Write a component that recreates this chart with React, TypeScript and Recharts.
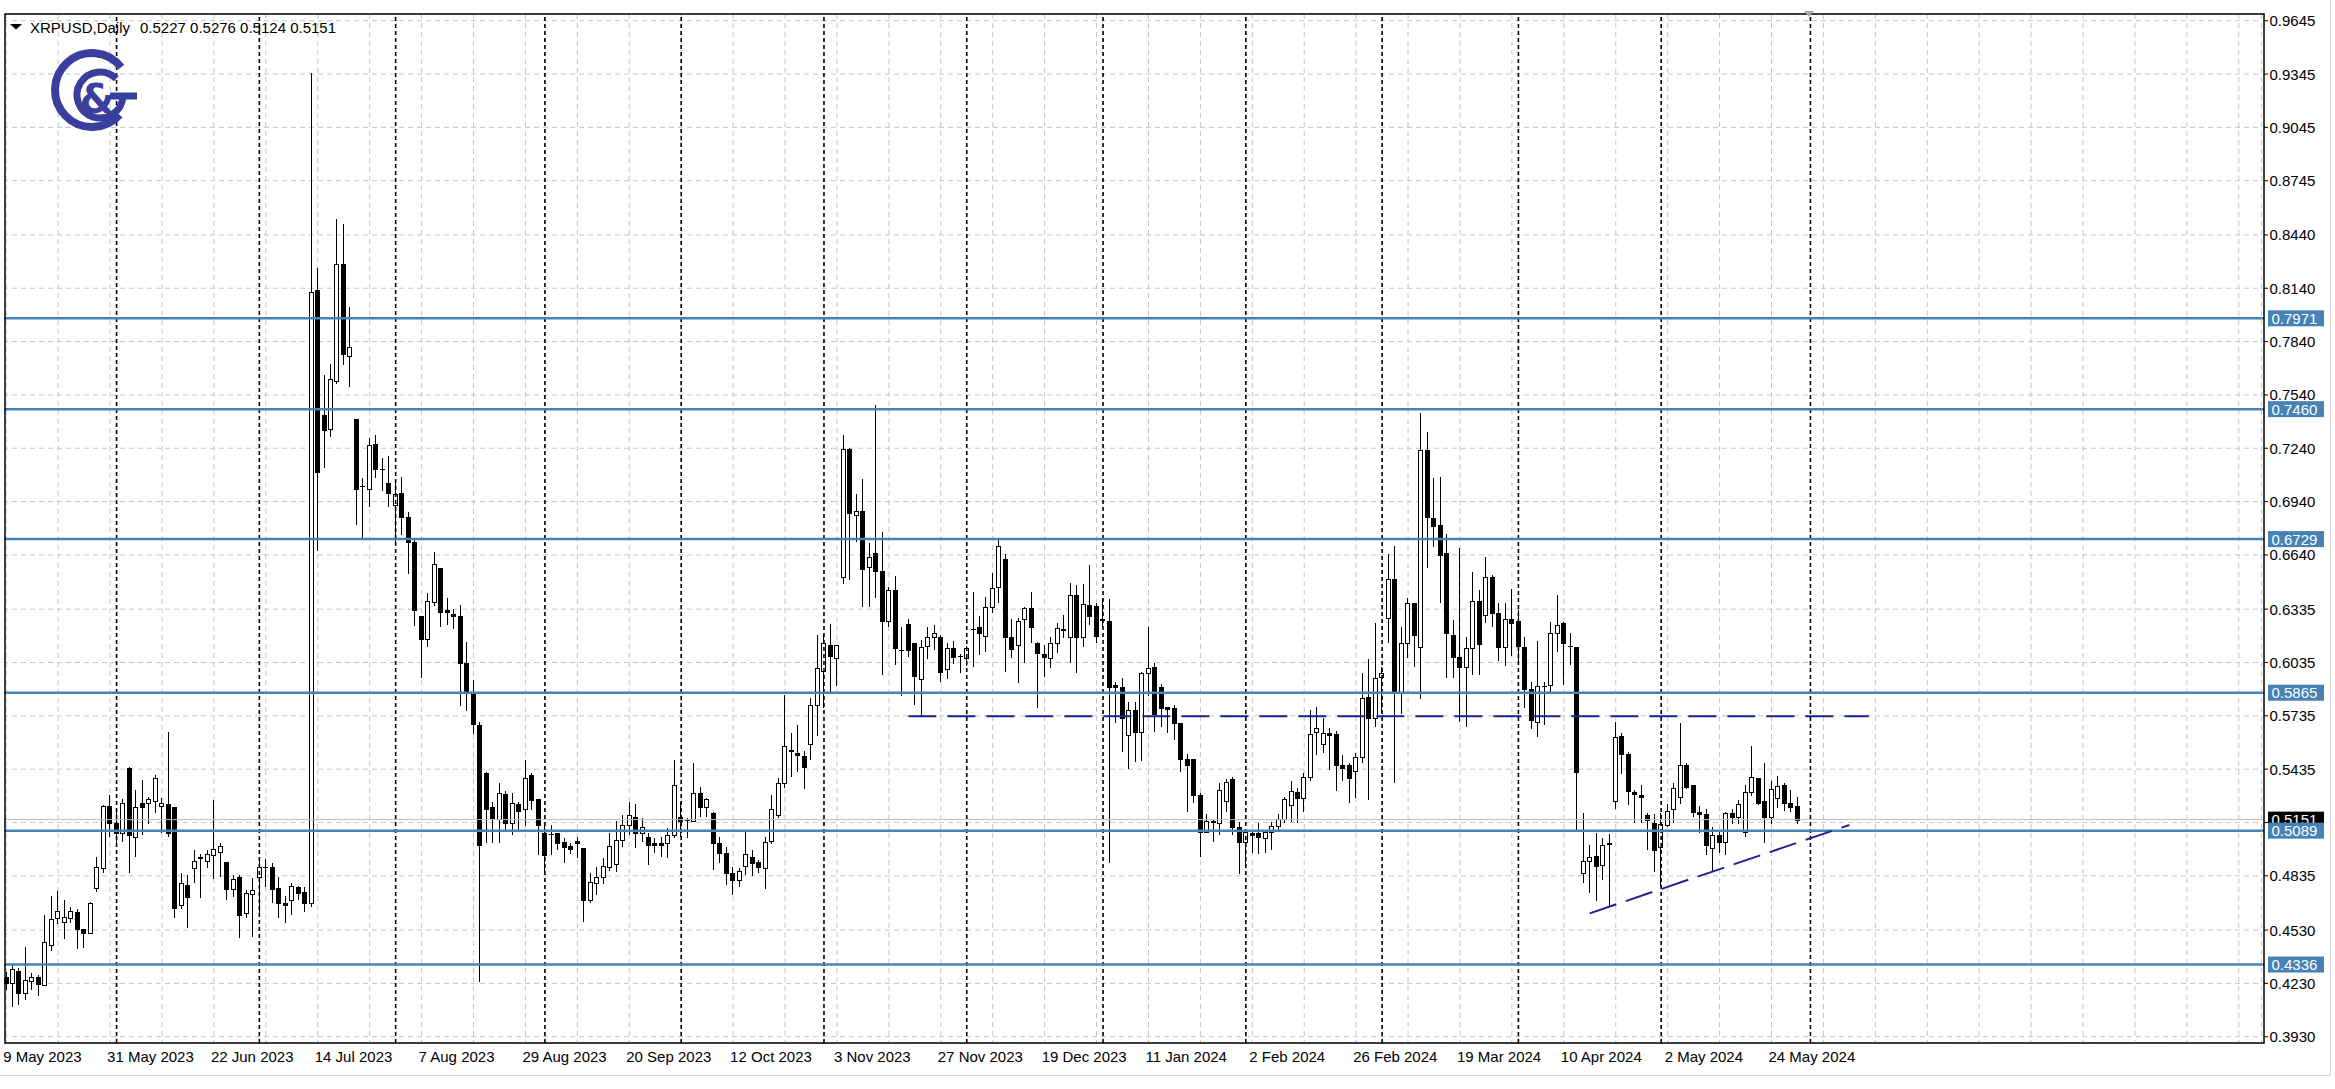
import React from "react";
import { ComposedChart, Bar, XAxis, YAxis, CartesianGrid, ReferenceLine } from "recharts";

const W = 2335;
const H = 1089;
const FONT = '"Liberation Sans", Arial, sans-serif';
const SYMBOL = "XRPUSD,Daily";

// ---- daily candles (weekday bars from 9 May 2023) ----
const opens = [
  0.4265,0.4230,0.4302,0.4178,0.4245,0.4264,0.4221,0.4446,0.4596,0.4577,
  0.4596,0.4633,0.4534,0.4512,0.4765,0.4877,0.5228,0.5130,0.5074,0.5440,
  0.5055,0.5247,0.5247,0.5256,0.5228,0.5237,0.5224,0.4671,0.4783,0.4877,
  0.4935,0.4918,0.4952,0.4971,0.4911,0.4761,0.4826,0.4624,0.4733,0.4827,
  0.4887,0.4886,0.4765,0.4684,0.4699,0.4770,0.4746,0.4680,0.8132,0.7429,
  0.7351,0.7621,0.8275,0.7759,0.7406,0.7029,0.7013,0.7265,0.7124,0.7047,
  0.6921,0.6990,0.6855,0.6711,0.6295,0.6166,0.6376,0.6568,0.6330,0.6310,
  0.6295,0.6031,0.5865,0.5683,0.5415,0.5224,0.5153,0.5295,0.5134,0.5239,
  0.5209,0.5402,0.5265,0.5078,0.5070,0.5074,0.5027,0.5003,0.5031,0.4990,
  0.4699,0.4796,0.4826,0.4886,0.4901,0.5036,0.5121,0.5164,0.5074,0.5055,
  0.5022,0.5018,0.5018,0.5065,0.5164,0.5150,0.5145,0.5303,0.5220,0.5186,
  0.5018,0.4965,0.4853,0.4812,0.4890,0.4943,0.4915,0.4877,0.5033,0.5177,
  0.5355,0.5540,0.5528,0.5509,0.5577,0.5796,0.5989,0.6133,0.6058,0.6518,
  0.7234,0.6865,0.6889,0.6570,0.6653,0.6551,0.6270,0.6443,0.6106,0.6251,
  0.6143,0.5940,0.6128,0.6177,0.6180,0.5996,0.6115,0.6072,0.6058,0.6226,
  0.6233,0.6184,0.6349,0.6458,0.6615,0.6176,0.6133,0.6278,0.6340,0.6146,
  0.6083,0.6058,0.6143,0.6222,0.6176,0.6415,0.6176,0.6358,0.6353,0.6278,
  0.6270,0.5908,0.5899,0.5627,0.5768,0.5646,0.5974,0.6008,0.5895,0.5786,
  0.5777,0.5693,0.5490,0.5490,0.5290,0.5083,0.5141,0.5130,0.5258,0.5378,
  0.5111,0.5027,0.5078,0.5074,0.5046,0.5083,0.5115,0.5153,0.5233,0.5309,
  0.5271,0.5393,0.5646,0.5577,0.5640,0.5633,0.5458,0.5458,0.5426,0.5501,
  0.5839,0.5721,0.5951,0.6283,0.6503,0.5871,0.6143,0.6371,0.6120,0.7230,
  0.6846,0.6808,0.6649,0.6190,0.6068,0.6008,0.6115,0.6383,0.6302,0.6514,
  0.6315,0.6120,0.6278,0.6270,0.6124,0.5884,0.5702,0.5903,0.5909,0.6203,
  0.6259,0.6128,0.6124,0.4853,0.4920,0.4946,0.4896,0.5014,0.5258,0.5621,
  0.5520,0.5308,0.5290,0.5177,0.5134,0.4999,0.5121,0.5209,0.5280,0.5458,
  0.5346,0.5196,0.5183,0.4990,0.5065,0.5027,0.5186,0.5168,0.5083,0.5308,
  0.5383,0.5258,0.5164,0.5271,0.5346,0.5247,0.5227,
];
const highs = [
  0.4296,0.4333,0.4315,0.4437,0.4290,0.4277,0.4615,0.4722,0.4750,0.4699,
  0.4661,0.4646,0.4534,0.4690,0.4943,0.5233,0.5290,0.5196,0.5265,0.5449,
  0.5318,0.5374,0.5280,0.5402,0.5271,0.5646,0.5224,0.4849,0.4840,0.4980,
  0.4956,0.4980,0.5262,0.5021,0.4911,0.4840,0.4840,0.4755,0.4821,0.4928,
  0.4928,0.4905,0.4830,0.4722,0.4793,0.4778,0.4770,0.9352,0.8253,0.7650,
  0.7716,0.8528,0.8499,0.8032,0.7406,0.7070,0.7300,0.7314,0.7185,0.7199,
  0.7056,0.7076,0.6884,0.6726,0.6295,0.6424,0.6654,0.6568,0.6396,0.6338,
  0.6358,0.6152,0.5937,0.5700,0.5421,0.5252,0.5359,0.5314,0.5303,0.5252,
  0.5486,0.5415,0.5265,0.5121,0.5121,0.5074,0.5050,0.5018,0.5055,0.4990,
  0.4849,0.4886,0.4933,0.5078,0.5145,0.5177,0.5252,0.5239,0.5158,0.5074,
  0.5046,0.5055,0.5102,0.5486,0.5252,0.5158,0.5468,0.5336,0.5271,0.5196,
  0.5055,0.4995,0.4883,0.4877,0.5093,0.4980,0.4924,0.5051,0.5289,0.5383,
  0.5852,0.5637,0.5683,0.5539,0.5833,0.6190,0.6190,0.6251,0.6133,0.7315,
  0.7240,0.6983,0.7065,0.6705,0.7483,0.6771,0.6458,0.6521,0.6236,0.6278,
  0.6143,0.6161,0.6233,0.6246,0.6190,0.6143,0.6157,0.6083,0.6128,0.6433,
  0.6296,0.6405,0.6540,0.6724,0.6645,0.6278,0.6283,0.6349,0.6433,0.6152,
  0.6133,0.6180,0.6259,0.6302,0.6480,0.6471,0.6476,0.6583,0.6368,0.6396,
  0.6390,0.5927,0.5946,0.5815,0.5815,0.5984,0.6237,0.6034,0.5914,0.5786,
  0.5796,0.5693,0.5520,0.5490,0.5299,0.5183,0.5149,0.5355,0.5378,0.5393,
  0.5139,0.5093,0.5083,0.5130,0.5093,0.5139,0.5183,0.5277,0.5370,0.5327,
  0.5415,0.5768,0.5787,0.5721,0.5665,0.5652,0.5515,0.5468,0.5524,0.5974,
  0.6053,0.6255,0.6012,0.6645,0.6690,0.6236,0.6396,0.6371,0.7440,0.7333,
  0.7071,0.7077,0.6758,0.6274,0.6677,0.6180,0.6546,0.6443,0.6630,0.6527,
  0.6371,0.6371,0.6446,0.6330,0.6180,0.5927,0.6158,0.5927,0.6265,0.6415,
  0.6265,0.6203,0.6124,0.5187,0.5008,0.5078,0.5046,0.5070,0.5702,0.5637,
  0.5533,0.5318,0.5346,0.5186,0.5183,0.5186,0.5239,0.5355,0.5696,0.5468,
  0.5346,0.5228,0.5209,0.5111,0.5093,0.5196,0.5209,0.5261,0.5346,0.5565,
  0.5383,0.5468,0.5370,0.5396,0.5359,0.5318,0.5276,
];
const lows = [
  0.4193,0.4099,0.4108,0.4137,0.4193,0.4159,0.4221,0.4414,0.4564,0.4478,
  0.4571,0.4422,0.4427,0.4512,0.4746,0.4849,0.5055,0.4999,0.5027,0.4849,
  0.4943,0.5065,0.5127,0.5186,0.5078,0.5055,0.4596,0.4647,0.4540,0.4793,
  0.4708,0.4877,0.4815,0.4830,0.4699,0.4718,0.4483,0.4596,0.4493,0.4605,
  0.4774,0.4680,0.4596,0.4568,0.4615,0.4699,0.4633,0.4660,0.6663,0.7128,
  0.7305,0.7601,0.7707,0.7587,0.6806,0.6732,0.6912,0.7070,0.6998,0.6912,
  0.6711,0.6754,0.6531,0.6238,0.5945,0.6123,0.6353,0.6232,0.6244,0.6224,
  0.5793,0.5764,0.5635,0.4240,0.5018,0.5022,0.5018,0.5093,0.5065,0.5093,
  0.5115,0.5205,0.4952,0.4849,0.4952,0.4980,0.4905,0.4958,0.4933,0.4577,
  0.4684,0.4727,0.4789,0.4864,0.4858,0.4999,0.5065,0.4990,0.5027,0.4896,
  0.4965,0.4943,0.4933,0.5046,0.5055,0.5046,0.5140,0.5164,0.5164,0.4868,
  0.4905,0.4783,0.4727,0.4770,0.4840,0.4834,0.4853,0.4759,0.5014,0.5158,
  0.5327,0.5393,0.5421,0.5321,0.5486,0.5621,0.5777,0.5858,0.5903,0.6476,
  0.6499,0.6715,0.6349,0.6349,0.6396,0.5965,0.6237,0.6021,0.5846,0.6068,
  0.5796,0.5730,0.6053,0.6105,0.5927,0.5940,0.6026,0.5974,0.6015,0.6011,
  0.6077,0.6096,0.6311,0.6368,0.5983,0.6058,0.5918,0.6030,0.6143,0.5777,
  0.5955,0.6002,0.6086,0.6171,0.6034,0.5974,0.6120,0.6246,0.6146,0.6233,
  0.4905,0.5693,0.5533,0.5434,0.5477,0.5483,0.5847,0.5646,0.5674,0.5640,
  0.5599,0.5421,0.5196,0.5243,0.4943,0.5083,0.5027,0.5065,0.5196,0.5065,
  0.4845,0.4890,0.4961,0.4958,0.4965,0.4980,0.5089,0.5130,0.5139,0.5130,
  0.5196,0.5370,0.5515,0.5528,0.5430,0.5314,0.5370,0.5243,0.5271,0.5468,
  0.5262,0.5674,0.5749,0.6143,0.5355,0.5745,0.6058,0.6008,0.5828,0.6565,
  0.6686,0.6368,0.5946,0.5946,0.5702,0.5670,0.5965,0.5965,0.6255,0.6236,
  0.6045,0.6015,0.6071,0.6030,0.5777,0.5659,0.5618,0.5683,0.5871,0.6096,
  0.5909,0.6021,0.5083,0.4793,0.4740,0.4695,0.4812,0.4658,0.5209,0.5408,
  0.5233,0.5130,0.5130,0.4980,0.4858,0.4774,0.5111,0.5130,0.5239,0.5322,
  0.5168,0.5074,0.4952,0.4864,0.4961,0.4952,0.5126,0.5126,0.5051,0.5284,
  0.5233,0.5018,0.5126,0.5215,0.5201,0.5196,0.5124,
];
const closes = [
  0.4232,0.4309,0.4174,0.4249,0.4268,0.4227,0.4465,0.4592,0.4636,0.4601,
  0.4636,0.4534,0.4515,0.4680,0.4887,0.5228,0.5130,0.5074,0.5247,0.5065,
  0.5220,0.5224,0.5265,0.5387,0.5247,0.5074,0.4652,0.4793,0.4718,0.4918,
  0.4940,0.4956,0.4984,0.5003,0.4759,0.4817,0.4615,0.4736,0.4755,0.4886,
  0.4886,0.4761,0.4680,0.4671,0.4780,0.4740,0.4680,0.8118,0.7105,0.7343,
  0.7630,0.8275,0.7773,0.7810,0.7013,0.7027,0.7257,0.7122,0.7122,0.6990,
  0.6984,0.6855,0.6711,0.6330,0.6166,0.6381,0.6588,0.6318,0.6318,0.6295,
  0.6031,0.5871,0.5687,0.5008,0.5209,0.5158,0.5303,0.5134,0.5247,0.5201,
  0.5383,0.5262,0.5121,0.4952,0.5068,0.5018,0.4999,0.4984,0.5018,0.4699,
  0.4802,0.4826,0.4890,0.5003,0.5036,0.5121,0.5177,0.5074,0.5111,0.5008,
  0.5008,0.5010,0.5065,0.5346,0.5145,0.5148,0.5303,0.5220,0.5265,0.5018,
  0.4962,0.4853,0.4812,0.4864,0.4958,0.4905,0.4887,0.5027,0.5209,0.5355,
  0.5565,0.5539,0.5515,0.5445,0.5796,0.6002,0.6143,0.6071,0.6133,0.7234,
  0.6878,0.6889,0.6559,0.6627,0.6551,0.6270,0.6443,0.6115,0.6105,0.6105,
  0.5959,0.6124,0.6177,0.6203,0.5983,0.6115,0.6064,0.6071,0.6115,0.6224,
  0.6203,0.6349,0.6452,0.6690,0.6176,0.6109,0.6270,0.6340,0.6233,0.6086,
  0.6068,0.6143,0.6227,0.6220,0.6415,0.6176,0.6364,0.6296,0.6184,0.6275,
  0.5895,0.5899,0.5721,0.5768,0.5646,0.5978,0.6002,0.5745,0.5777,0.5772,
  0.5693,0.5490,0.5458,0.5290,0.5083,0.5145,0.5139,0.5318,0.5365,0.5111,
  0.5027,0.5083,0.5065,0.5051,0.5083,0.5117,0.5153,0.5265,0.5314,0.5271,
  0.5393,0.5633,0.5665,0.5640,0.5627,0.5458,0.5440,0.5383,0.5501,0.5833,
  0.5721,0.5946,0.5974,0.6503,0.5865,0.6143,0.6371,0.6190,0.7230,0.6851,
  0.6803,0.6640,0.6199,0.6064,0.6008,0.6115,0.6383,0.6139,0.6514,0.6315,
  0.6120,0.6278,0.6259,0.6128,0.5884,0.5711,0.5903,0.5905,0.6203,0.6246,
  0.6143,0.6127,0.5421,0.4920,0.4939,0.4890,0.5008,0.5018,0.5618,0.5520,
  0.5314,0.5295,0.5276,0.5149,0.4980,0.5126,0.5202,0.5327,0.5458,0.5337,
  0.5196,0.5183,0.5008,0.5065,0.5027,0.5186,0.5168,0.5239,0.5308,0.5389,
  0.5247,0.5164,0.5322,0.5340,0.5247,0.5220,0.5151,
];

// ---- axis labels, levels, drawings ----
const dateLabels = [
  "9 May 2023", "31 May 2023", "22 Jun 2023", "14 Jul 2023", "7 Aug 2023", "29 Aug 2023",
  "20 Sep 2023", "12 Oct 2023", "3 Nov 2023", "27 Nov 2023", "19 Dec 2023", "11 Jan 2024",
  "2 Feb 2024", "26 Feb 2024", "19 Mar 2024", "10 Apr 2024", "2 May 2024", "24 May 2024",
];
const LABEL_EVERY = 16;
const GRID_EVERY = 8;
const SLOTS = 348;
const monthStarts = [17, 39, 60, 83, 104, 126, 148, 169, 191, 212, 233, 255, 278];
const yTickLabels = [
  "0.9645", "0.9345", "0.9045", "0.8745", "0.8440", "0.8140", "0.7840", "0.7540", "0.7240", "0.6940",
  "0.6640", "0.6335", "0.6035", "0.5735", "0.5435", "0.5135", "0.4835", "0.4530", "0.4230", "0.3930",
];
const Y_MIN = 0.38946;
const Y_MAX = 0.96827;
const levels = [0.7971, 0.746, 0.6729, 0.5865, 0.5089, 0.4336];
const resistance = { from: 139, to: 287, price: 0.5733 };
const trendStart = { bar: 244, price: 0.4624 };
const trendEnd = { bar: 284, price: 0.5121 };

const LEVEL_COLOR = "#4682B4";
const DRAW_COLOR = "#20208f";

const n = Math.min(opens.length, highs.length, lows.length, closes.length);
const lastClose = closes[n - 1];
const headerValues = [opens, highs, lows, closes].map((a) => a[n - 1].toFixed(4)).join(" ");

const data = Array.from({ length: SLOTS }, (_, i) =>
  i < n ? { i, o: opens[i], h: highs[i], l: lows[i], c: closes[i] } : { i }
);
const xTicks = Array.from({ length: Math.floor((SLOTS - 1) / GRID_EVERY) + 1 }, (_, k) => k * GRID_EVERY);
const yTicks = yTickLabels.map(Number);

const Candle = (props: any) => {
  const { x, y, width, height, payload } = props;
  if (!payload || payload.o == null) return null;
  const { o, h, l, c } = payload;
  const yTop = Math.min(y, y + height);
  const yBot = Math.max(y, y + height);
  const span = h - l;
  const pix = (v: number) => (span > 0 ? yTop + ((h - v) / span) * (yBot - yTop) : yTop);
  const px = Math.floor(x + width / 2);
  const bTop = Math.round(Math.min(pix(o), pix(c)));
  const bBot = Math.round(Math.max(pix(o), pix(c)));
  const bull = c >= o;
  return (
    <g>
      <line x1={px + 0.5} x2={px + 0.5} y1={Math.round(yTop)} y2={Math.round(yBot)} stroke="#000" strokeWidth={1} />
      {bBot - bTop < 1 ? (
        <line x1={px - 2} x2={px + 3} y1={bTop + 0.5} y2={bTop + 0.5} stroke="#000" strokeWidth={1} />
      ) : bull ? (
        <rect x={px - 1.5} y={bTop + 0.5} width={4} height={bBot - bTop} fill="#fff" stroke="#000" strokeWidth={1} />
      ) : (
        <rect x={px - 2} y={bTop} width={5} height={bBot - bTop + 1} fill="#000" />
      )}
    </g>
  );
};

const XTick = (props: any) => {
  const { x, y, payload } = props;
  const v = Number(payload?.value);
  if (v % LABEL_EVERY !== 0) return null;
  const label = dateLabels[v / LABEL_EVERY];
  if (!label) return null;
  return (
    <text x={x - 3} y={y + 11} fontSize={15} fontFamily={FONT} fill="#000" textAnchor="start">
      {label}
    </text>
  );
};

const YTick = (props: any) => {
  const { x, y, payload } = props;
  const v = Number(payload?.value);
  const label = yTickLabels.find((s) => Math.abs(Number(s) - v) < 1e-7) ?? v.toFixed(4);
  const hidden = Math.abs(v - lastClose) < 0.004;
  return (
    <g>
      <line x1={x - 5.5} x2={x - 1.5} y1={y} y2={y} stroke="#000" strokeWidth={1} />
      {!hidden && (
        <text x={x} y={y + 5.5} fontSize={15} fontFamily={FONT} fill="#000" textAnchor="start">
          {label}
        </text>
      )}
    </g>
  );
};

const makeTag = (text: string, bg: string, lineW: number) => (props: any) => {
  const vb = props?.viewBox || {};
  const y = vb.y ?? 0;
  const right = (vb.x ?? 0) + (vb.width ?? 0);
  return (
    <g>
      <line x1={right} x2={right + 2.5} y1={y} y2={y} stroke={bg === "#000" ? "#bdbdbd" : bg} strokeWidth={lineW} />
      <rect x={right + 6.5} y={y - 8} width={56} height={16} fill={bg} />
      <text x={right + 10} y={y + 5.5} fontSize={15} fontFamily={FONT} fill="#fff">
        {text}
      </text>
    </g>
  );
};

const arcPath = (cx: number, cy: number, r: number, a0: number, a1: number) => {
  const rad = (a: number) => (a * Math.PI) / 180;
  const sx = cx + r * Math.cos(rad(a0));
  const sy = cy + r * Math.sin(rad(a0));
  const ex = cx + r * Math.cos(rad(a1));
  const ey = cy + r * Math.sin(rad(a1));
  return `M ${sx} ${sy} A ${r} ${r} 0 1 0 ${ex} ${ey}`;
};

export default function App() {
  const logo = "#3a3f9e";
  return (
    <div style={{ position: "absolute", left: 0, top: 0, width: W, height: H, background: "#fff" }}>
      <ComposedChart
        width={W}
        height={H}
        data={data}
        margin={{ top: 14, right: 0, bottom: 0, left: 3 }}
        barCategoryGap={1}
      >
        <CartesianGrid stroke="#c6c6c6" strokeDasharray="5 4" />
        <XAxis
          dataKey="i"
          type="category"
          ticks={xTicks}
          interval={0}
          height={46}
          axisLine={false}
          tickLine={false}
          tick={(p: any) => <XTick {...p} />}
        />
        <YAxis
          orientation="right"
          type="number"
          domain={[Y_MIN, Y_MAX]}
          ticks={yTicks}
          interval={0}
          allowDataOverflow
          width={73.5}
          axisLine={false}
          tickLine={false}
          tick={(p: any) => <YTick {...p} />}
        />
        {monthStarts.map((m) => (
          <ReferenceLine key={"m" + m} x={m} stroke="#000" strokeWidth={1.6} strokeDasharray="4 3" />
        ))}
        <ReferenceLine y={lastClose} stroke="#bdbdbd" strokeWidth={1} label={makeTag(lastClose.toFixed(4), "#000", 1)} />
        {levels.map((v) => (
          <ReferenceLine
            key={"l" + v}
            y={v}
            stroke={LEVEL_COLOR}
            strokeWidth={2.5}
            label={makeTag(v.toFixed(4), LEVEL_COLOR, 2.5)}
          />
        ))}
        <ReferenceLine
          segment={[
            { x: resistance.from, y: resistance.price },
            { x: resistance.to, y: resistance.price },
          ]}
          stroke={DRAW_COLOR}
          strokeWidth={2}
          strokeDasharray="28 11"
        />
        <ReferenceLine
          segment={[
            { x: trendStart.bar, y: trendStart.price },
            { x: trendEnd.bar, y: trendEnd.price },
          ]}
          stroke={DRAW_COLOR}
          strokeWidth={2}
          strokeDasharray="28 10"
        />
        <Bar
          dataKey={(d: any) => (d.o == null ? null : [d.l, d.h])}
          shape={Candle}
          isAnimationActive={false}
        />
      </ComposedChart>
      <svg
        width={W}
        height={H}
        style={{ position: "absolute", left: 0, top: 0, pointerEvents: "none" }}
      >
        <rect x={0} y={0} width={4.3} height={1045} fill="#fff" />
        <rect x={5} y={14} width={2259} height={1029} fill="none" stroke="#000" strokeWidth={1.5} />
        <line x1={2330.5} x2={2330.5} y1={0} y2={1075} stroke="#d6d6d6" strokeWidth={1} />
        <line x1={0} x2={2330.5} y1={1075.5} y2={1075.5} stroke="#d6d6d6" strokeWidth={1} />
        <polygon points="1804,11 1814,11 1809,17" fill="#a8a8a8" />
        <polygon points="10,24 22,24 16,29.5" fill="#000" />
        <text x={30} y={33} fontSize={15} fontFamily={FONT} fill="#000">
          {SYMBOL}
        </text>
        <text x={140} y={33} fontSize={15} fontFamily={FONT} fill="#000">
          {headerValues}
        </text>
        <path d={arcPath(92, 90, 37, -38, 42)} fill="none" stroke={logo} strokeWidth={8} />
        <path d={arcPath(100, 95, 23, -45, 5)} fill="none" stroke={logo} strokeWidth={7} />
        <line x1={110} x2={137} y1={96} y2={96} stroke={logo} strokeWidth={7} />
        <text x={97} y={113} fontSize={40} fontWeight="bold" fontFamily='"DejaVu Sans", sans-serif' fill={logo} textAnchor="middle">
          &amp;
        </text>
      </svg>
    </div>
  );
}
